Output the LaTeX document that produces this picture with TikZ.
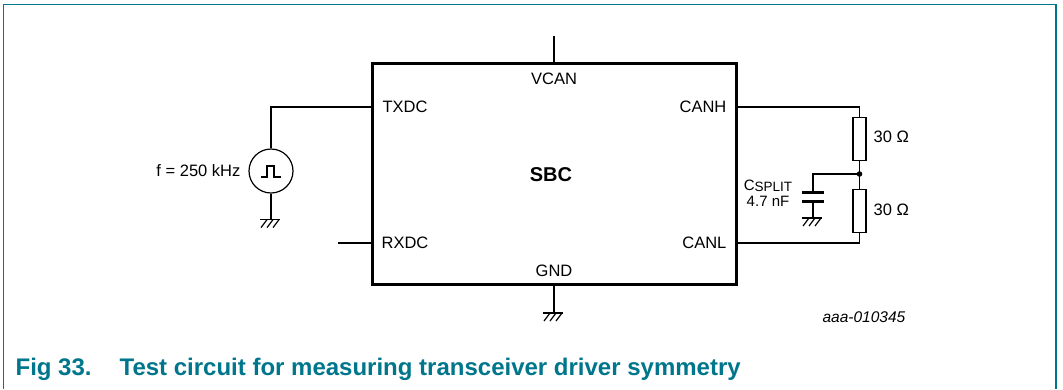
\documentclass[tikz,border=0pt]{standalone}
\usepackage{fontspec}
\setmainfont{Liberation Sans}
\newfontfamily\capfont{Liberation Sans}
\usetikzlibrary{positioning}

\definecolor{frameteal}{RGB}{0,118,140}

\tikzset{
	ground/.pic = {
		\draw (-11, 0) -- (9, 0);
		\foreach \t in {-4, 2, 8}
			\draw (\t, 0) -- ({\t - 6}, 8);
	},
	resistor/.style = {draw, rectangle, minimum width = 13pt, minimum height = 43pt, inner sep = 0pt},
	pinlabel/.style = {inner sep = 0pt}
}

\begin{document}
\begin{tikzpicture}[x = 1pt, y = -1pt, line width = 1.2pt, font = \fontsize{16.5}{19}\selectfont]

	% Definitions

	\def\platehalf{11}		% Half width of capacitor plates
	\def\gndlead{26}		% Length of lead down to a ground symbol

	\useasboundingbox (0, 0) rectangle (1063, 389);

	% Frame

	\draw [frameteal, line width = 1.5pt] (3.5, 389) -- (3.5, 4.5) -- (1056, 4.5) -- (1056, 389);

	% Transceiver block

	\node [draw, line width = 3pt, minimum width = 364pt, minimum height = 221pt, inner sep = 0pt] (sbc) at (554, 173.5) {};
	\node [pinlabel, font = \fontsize{20}{24}\selectfont\bfseries] (sbcname) at (551, 175) {SBC};

	\node [pinlabel] (vcanlabel) at (554, 79) {VCAN};
	\node [pinlabel] (gndlabel) at (554, 271) {GND};
	\node [pinlabel, anchor = west] (txdclabel) at (382, 107) {TXDC};
	\node [pinlabel, anchor = west] (rxdclabel) at (381, 243) {RXDC};
	\node [pinlabel, anchor = east] (canhlabel) at (727, 107) {CANH};
	\node [pinlabel, anchor = east] (canllabel) at (727, 243) {CANL};

	% Supply and ground pins

	\coordinate (vcantop) at (554, 36);
	\draw (vcantop) -- (vcantop |- sbc.north);

	\coordinate (gndend) at (554, 313);
	\draw (gndend |- sbc.south) -- (gndend);
	\pic at (gndend) {ground};

	% Signal source on TXDC

	\node [draw, circle, minimum size = 44pt, inner sep = 0pt] (src) at (271, 171) {};
	\coordinate (txd) at (sbc.west |- txdclabel);
	\draw (txd) -| (src.north);
	\draw [line width = 1.5pt] ([shift = {(-10, 6)}]src.center) -- ++(6, 0) -- ++(0, -11) -- ++(7, 0) -- ++(0, 11) -- ++(7, 0);

	\coordinate (srcgnd) at ([yshift = -\gndlead pt]src.south);
	\draw (src.south) -- (srcgnd);
	\pic at (srcgnd) {ground};

	\node [pinlabel, anchor = east] (freq) at (241, 171) {f = 250 kHz};

	% RXDC lead

	\coordinate (rxd) at (sbc.west |- rxdclabel);
	\coordinate (rxdend) at (338, 243);
	\draw (rxdend) -- (rxd);

	% Bus termination

	\node [resistor] (rhi) at (859.5, 139) {};
	\node [resistor] (rlo) at (859.5, 211) {};

	\coordinate (canh) at (sbc.east |- canhlabel);
	\coordinate (canl) at (sbc.east |- canllabel);
	\draw (canh) -| (rhi.north);
	\draw (canl) -| (rlo.south);
	\draw (rhi.south) -- (rlo.north);

	\coordinate (split) at (859.5, 174);
	\fill (split) circle (2.8pt);

	\node [pinlabel, anchor = west] (rhival) at (873, 137) {30 Ω};
	\node [pinlabel, anchor = west] (rloval) at (873, 210) {30 Ω};

	% Split capacitor

	\coordinate (capa) at (813, 192);
	\coordinate (capb) at (813, 201);
	\draw (split) -| (capa);
	\draw [line width = 3pt] ([xshift = -\platehalf pt]capa) -- ([xshift = \platehalf pt]capa);
	\draw [line width = 3pt] ([xshift = -\platehalf pt]capb) -- ([xshift = \platehalf pt]capb);

	\coordinate (capgnd) at (813, 218);
	\draw (capb) -- (capgnd);
	\pic at (capgnd) {ground};

	\node [pinlabel, align = center, font = \fontsize{15}{15}\selectfont] (csplit) at (768, 193) {C\raisebox{-0.2ex}{\fontsize{13.5}{13.5}\selectfont SPLIT}\\[1pt]4.7 nF};

	% Drawing number and caption

	\node [pinlabel, anchor = west, font = \fontsize{15.5}{18}\selectfont\itshape] (drawno) at (822, 317) {aaa-010345};
	\node [pinlabel, anchor = west, text = frameteal, font = \fontsize{24}{28}\capfont\bfseries] (caption) at (15, 369) {Fig 33.\hspace{28pt}Test circuit for measuring transceiver driver symmetry};

\end{tikzpicture}
\end{document}
